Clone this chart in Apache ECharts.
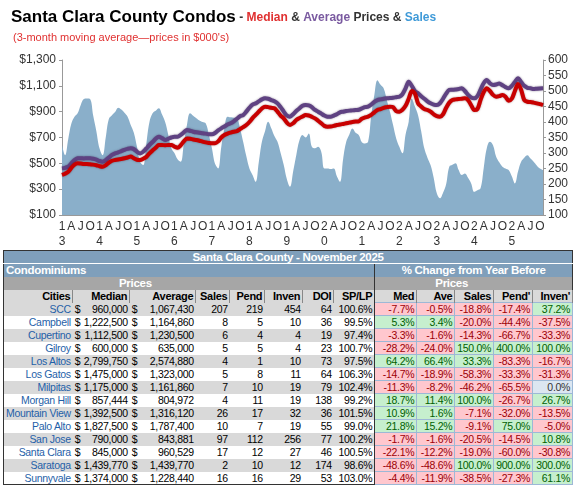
<!DOCTYPE html>
<html>
<head>
<meta charset="utf-8">
<script src="https://cdn.jsdelivr.net/npm/echarts@6/dist/echarts.min.js"></script>
<style>
  body { margin: 0; background: #fff; font-family: "Liberation Sans", Arial, sans-serif; }
  #chart { position: absolute; left: 0; top: 0; width: 575px; height: 250px; }
  #tbl { position: absolute; left: 3px; top: 250px; border-collapse: collapse; table-layout: fixed;
         font-size: 10.5px; letter-spacing: -0.3px; border: 1px solid #333; }
  #tbl td { padding: 0 2px; height: 13px; line-height: 12px; white-space: nowrap; overflow: hidden; box-sizing: border-box; }
  .band { background: #7f9fbb; color: #fff; font-weight: bold; font-size: 11.5px; }
  .gray { background: #a6a6a6; color: #fff; font-weight: bold; font-size: 11.5px; }
  .hdr td { background: #d9d9d9; font-weight: bold; font-size: 11px; text-align: right; border-right: 1px solid #888; }
  .city { color: #1f5fa8; text-align: right; }
  .num { text-align: right; }
  .pct { text-align: right; border: 1px solid #9db8d6; }
  .neg { background: #ffc7ce; color: #9c0006; }
  .pos { background: #c6efce; color: #006100; }
  .zero { background: #dce6f1; color: #333; }
  .dol { display: flex; justify-content: space-between; }
</style>
</head>
<body>
<div id="chart"></div>
<table id="tbl"></table>
<script>
// sales, 3-month moving average, Jan 2013 .. Nov 2025
var sales = [
  326,293,345,395,417,428,455,474,476,474,420,370,
  315,293,350,410,422,432,446,440,430,417,390,365,
  320,272,261,330,400,428,436,444,425,401,360,315,
  300,280,272,330,390,428,420,412,405,400,396,360,
  315,265,250,320,380,417,415,414,412,380,336,290,
  250,229,207,270,336,370,401,380,355,336,300,261,
  215,191,240,293,340,358,350,363,320,315,320,304,
  250,250,248,250,225,207,280,336,360,379,365,358,
  335,331,336,420,487,535,520,508,470,433,390,347,
  320,299,360,401,476,450,422,370,315,285,261,220,
  170,154,172,200,256,262,267,245,229,234,220,202,
  175,180,186,250,315,336,325,288,270,256,250,245,
  225,202,240,272,285,293,282,272,260,250,245
];
// median price ($000)
var median = [
  410,420,435,465,490,500,498,495,494,492,490,485,
  478,474,485,505,520,526,530,533,539,545,552,540,
  528,526,535,550,577,600,620,642,642,640,642,642,
  630,621,640,670,693,690,685,681,675,668,662,658,
  655,655,670,700,719,730,738,745,750,765,780,797,
  820,850,875,900,925,939,935,930,926,900,870,848,
  815,797,810,835,850,862,874,870,860,848,830,810,
  790,784,785,790,797,800,805,810,815,820,823,825,
  845,855,862,875,895,913,920,930,935,939,935,905,
  900,915,945,1000,1060,1040,964,940,920,913,900,880,
  865,861,880,930,970,990,995,998,1000,1003,990,950,
  913,920,990,1050,1081,1060,1030,1016,1020,1029,1015,985,
  1000,1060,1115,1070,990,977,975,970,964,958,951
];
// average price ($000)
var average = [
  461,465,474,500,525,539,540,538,539,539,535,528,
  518,513,525,545,565,577,585,595,605,612,616,610,
  590,577,590,615,642,665,690,706,695,681,690,700,
  706,706,720,740,758,752,745,740,737,733,730,725,
  725,735,755,771,785,800,810,825,845,865,874,900,
  930,955,964,980,995,1003,1000,990,980,964,935,900,
  870,861,880,905,925,945,951,948,935,913,900,885,
  870,861,860,870,880,895,900,905,908,910,913,915,
  925,935,939,955,975,990,995,1000,1003,1005,1008,1012,
  1016,1035,1080,1132,1100,1060,1042,1020,1000,980,965,955,
  951,965,1000,1040,1068,1070,1072,1075,1081,1060,1030,1010,
  1003,1020,1070,1120,1145,1120,1106,1110,1119,1105,1090,1081,
  1100,1130,1158,1130,1100,1085,1081,1075,1078,1080,1081
];
var startYear = 2013;
var quarterLetters = { 3: 'A', 6: 'J', 9: 'O' };

var months = [];
for (var i = 0; i < sales.length; i++) {
  var y = startYear + Math.floor(i / 12), mo = i % 12;
  months.push(y + '-' + (mo + 1));
}

var cities = ['SCC','Campbell','Cupertino','Gilroy','Los Altos','Los Gatos','Milpitas','Morgan Hill','Mountain View','Palo Alto','San Jose','Santa Clara','Saratoga','Sunnyvale'];
var medPrice = ['960,000','1,222,500','1,112,500','600,000','2,799,750','1,475,000','1,175,000','857,444','1,392,500','1,827,500','790,000','845,000','1,439,770','1,374,000'];
var avePrice = ['1,067,430','1,164,860','1,230,500','635,000','2,574,880','1,323,000','1,161,860','804,972','1,316,120','1,787,400','843,881','960,529','1,439,770','1,228,440'];
var citySales = [207,8,6,5,4,5,7,4,26,10,97,17,2,16];
var cityPend = [219,5,4,5,1,8,10,11,17,7,112,12,10,16];
var cityInven = [454,10,4,4,10,11,19,19,32,19,256,27,12,29];
var cityDOI = [64,36,19,23,73,64,79,138,36,55,77,46,174,53];
var spLp = ['100.6%','99.5%','97.4%','100.7%','97.5%','106.3%','102.4%','99.2%','101.5%','99.0%','100.2%','100.5%','98.6%','103.0%'];
var chgMed = [-7.7,5.3,-3.3,-28.2,64.2,-14.7,-11.3,18.7,10.9,21.8,-1.7,-22.1,-48.6,-4.4];
var chgAve = [-0.5,3.4,-1.6,-24.0,66.4,-18.9,-8.2,11.4,1.6,15.2,-1.6,-12.2,-48.6,-11.9];
var chgSales = [-18.8,-20.0,-14.3,150.0,33.3,-58.3,-46.2,100.0,-7.1,-9.1,-20.5,-19.0,100.0,-38.5];
var chgPend = [-17.4,-44.4,-66.7,400.0,-83.3,-33.3,-65.5,-26.7,-32.0,75.0,-14.5,-60.0,900.0,-27.3];
var chgInven = [37.2,-37.5,-33.3,100.0,-16.7,-31.3,0.0,26.7,-13.5,-5.0,10.8,-30.8,300.0,61.1];
var headers = ['Cities','Median','Average','Sales','Pend','Inven','DOI','SP/LP','Med','Ave','Sales',"Pend'","Inven'"];
var colW = [66,57,66,34,35,38,31,41,42,38,38,39,40];

var chart = echarts.init(document.getElementById('chart'));
var axisFont = { fontFamily: 'Liberation Sans', fontSize: 12, color: '#333' };

chart.setOption({
  animation: false,
  title: [{
    left: 6, top: 4,
    text: '{a|Santa Clara County Condos}{b| - }{r|Median}{b| & }{p|Average}{b| Prices & }{s|Sales}',
    textStyle: {
      rich: {
        a: { fontFamily: 'Liberation Sans', fontWeight: 'bold', fontSize: 17, color: '#000' },
        b: { fontFamily: 'Liberation Sans', fontSize: 12, color: '#333' },
        r: { fontFamily: 'Liberation Sans', fontSize: 12, color: '#e03030' },
        p: { fontFamily: 'Liberation Sans', fontSize: 12, color: '#7a5aa0' },
        s: { fontFamily: 'Liberation Sans', fontSize: 12, color: '#3f9ad8' }
      }
    }
  }, {
    left: 8, top: 27,
    text: '(3-month moving average\u2014prices in $000\'s)',
    textStyle: { fontFamily: 'Liberation Sans', fontSize: 11, fontWeight: 'normal', color: '#e03030' }
  }],
  grid: { left: 62, right: 32, top: 60, height: 155 },
  xAxis: {
    type: 'category', data: months, boundaryGap: false,
    axisLine: { lineStyle: { color: '#999' } },
    axisTick: { show: false },
    axisLabel: {
      interval: 0, margin: 4, lineHeight: 15,
      fontFamily: 'Liberation Sans', fontSize: 12, color: '#333',
      formatter: function (v, idx) {
        var mo = idx % 12;
        if (mo === 0) {
          var yy = String(startYear + Math.floor(idx / 12)).slice(2);
          return yy[0] + '\n' + yy[1];
        }
        return quarterLetters[mo] ? quarterLetters[mo] + '\n ' : '';
      }
    }
  },
  yAxis: [{
    type: 'value', min: 100, max: 1300, interval: 200,
    axisLine: { show: true, lineStyle: { color: '#999' } },
    axisTick: { show: true, length: 3 },
    splitLine: { show: false },
    axisLabel: Object.assign({ margin: 6, formatter: function (v) { return '$' + v.toLocaleString('en-US'); } }, axisFont)
  }, {
    type: 'value', min: 100, max: 600, interval: 50,
    axisLine: { show: true, lineStyle: { color: '#999' } },
    axisTick: { show: true, length: 3 },
    splitLine: { show: false },
    axisLabel: Object.assign({ margin: 5 }, axisFont)
  }],
  series: [{
    name: 'Sales', type: 'line', yAxisIndex: 1, data: sales, smooth: 0.4,
    showSymbol: false, lineStyle: { width: 0 },
    areaStyle: { color: '#8aafca', opacity: 1 }, z: 1
  }, {
    name: 'Average', type: 'line', yAxisIndex: 0, data: average, smooth: 0.3,
    showSymbol: false, lineStyle: { width: 4, color: '#5f4282', shadowColor: 'rgba(40,20,60,0.5)', shadowBlur: 2 }, z: 3
  }, {
    name: 'Median', type: 'line', yAxisIndex: 0, data: median, smooth: 0.3,
    showSymbol: false, lineStyle: { width: 4, color: '#c80000', shadowColor: 'rgba(90,0,0,0.5)', shadowBlur: 2 }, z: 4
  }]
});

// table below the chart
function fmtPct(v) { return v.toFixed(1) + '%'; }
function pctCell(v) {
  var cls = v > 0 ? 'pos' : (v < 0 ? 'neg' : 'zero');
  return '<td class="pct ' + cls + '">' + fmtPct(v) + '</td>';
}
var html = '<colgroup>' + colW.map(function (w) { return '<col style="width:' + w + 'px">'; }).join('') + '</colgroup>';
html += '<tr><td colspan="13" class="band" style="text-align:center;border-bottom:1px solid #fff">Santa Clara County - November 2025</td></tr>';
html += '<tr><td colspan="8" class="band" style="border-right:1px solid #333">Condominiums</td><td colspan="5" class="band" style="text-align:center">% Change from Year Before</td></tr>';
html += '<tr><td colspan="8" class="gray" style="padding-left:115px;border-right:1px solid #333">Prices</td><td colspan="5" class="gray" style="padding-left:60px">Prices</td></tr>';
html += '<tr class="hdr">' + headers.map(function (h, i) {
  return '<td' + (i === 7 ? ' style="border-right:1px solid #333"' : '') + '>' + h + '</td>';
}).join('') + '</tr>';
for (var r = 0; r < cities.length; r++) {
  var bg = (r % 2 === 0) ? '#d9d9d9' : '#fff';
  html += '<tr style="background:' + bg + '">' +
    '<td class="city">' + cities[r] + '</td>' +
    '<td><div class="dol"><span>$</span><span>' + medPrice[r] + '</span></div></td>' +
    '<td><div class="dol"><span>$</span><span>' + avePrice[r] + '</span></div></td>' +
    '<td class="num">' + citySales[r] + '</td>' +
    '<td class="num">' + cityPend[r] + '</td>' +
    '<td class="num">' + cityInven[r] + '</td>' +
    '<td class="num">' + cityDOI[r] + '</td>' +
    '<td class="num" style="border-right:1px solid #333">' + spLp[r] + '</td>' +
    pctCell(chgMed[r]) + pctCell(chgAve[r]) + pctCell(chgSales[r]) + pctCell(chgPend[r]) + pctCell(chgInven[r]) +
    '</tr>';
}
document.getElementById('tbl').innerHTML = html;
</script>
</body>
</html>
